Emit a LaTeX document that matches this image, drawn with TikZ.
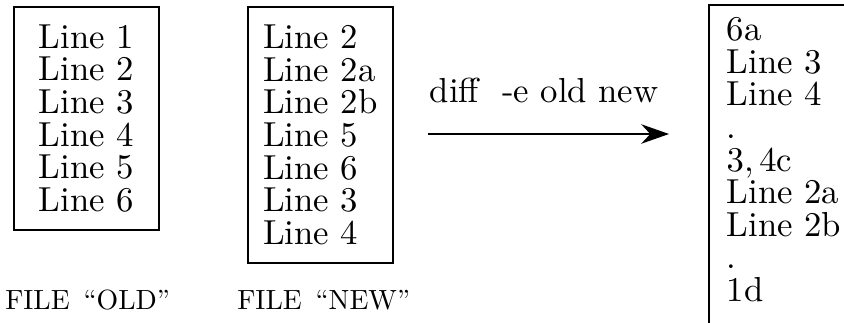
\documentclass[tikz,border=0pt]{standalone}
\usepackage{tikz}
\usetikzlibrary{
    positioning,
    arrows.meta
}

\begin{document}
\begin{tikzpicture}[
    filebox/.style={rectangle, draw, line width=0.6pt, align=left, font=\fontsize{10}{9.4}\selectfont, minimum width=41.7pt, inner sep=0pt},
    outbox/.style={rectangle, align=left, font=\fontsize{10}{9.4}\selectfont, inner xsep=4.9pt, inner ysep=3.4pt},
    filecap/.style={font=\fontsize{10}{12}\selectfont, inner sep=0pt},
    cmd/.style={-{Stealth[length=8pt, width=5.6pt, inset=2.6pt]}, line width=0.6pt},
]
\useasboundingbox (0,0) rectangle (243.1pt,-93pt);
\clip (0,0) rectangle (243.1pt,-93pt);

% the two files
\node[filebox, minimum height=64.2pt, anchor=north west] (old) at (3.7pt,-1.7pt) {%
  Line 1\\
  Line 2\\
  Line 3\\
  Line 4\\
  Line 5\\
  Line 6};

\node[filebox, minimum height=73.7pt, right=25.1pt of old.north east, anchor=north west] (new) {%
  Line 2\\
  Line 2a\\
  Line 2b\\
  Line 5\\
  Line 6\\
  Line 3\\
  Line 4};

\node[filecap, anchor=base] (oldcap) at ([xshift=0.4pt, yshift=-22.6pt]old.south) {\scalebox{0.8}{FILE \,“OLD”}};
\node[filecap, anchor=base] (newcap) at ([xshift=1pt]new.south |- oldcap.base) {\scalebox{0.8}{FILE \,“NEW”}};

% the command
\coordinate (dstart) at (123.3pt,-38.6pt);
\coordinate (dend) at (192.7pt,-38.6pt);
\draw[cmd] (dstart) -- (dend);
\node[anchor=base, inner sep=0pt] (cmdtext) at (156.7pt,-29.4pt) {diff\ \ -e old new};

% the ed script
\node[outbox, anchor=north west] (eout) at (204.2pt,-1.4pt) {%
  6a\\
  Line 3\\
  Line 4\\
  .\\
  $3,4$c\\
  Line 2a\\
  Line 2b\\
  .\\
  1d};
\draw[line width=0.6pt] (eout.north west) rectangle ++(60pt,-110pt);
\end{tikzpicture}
\end{document}
